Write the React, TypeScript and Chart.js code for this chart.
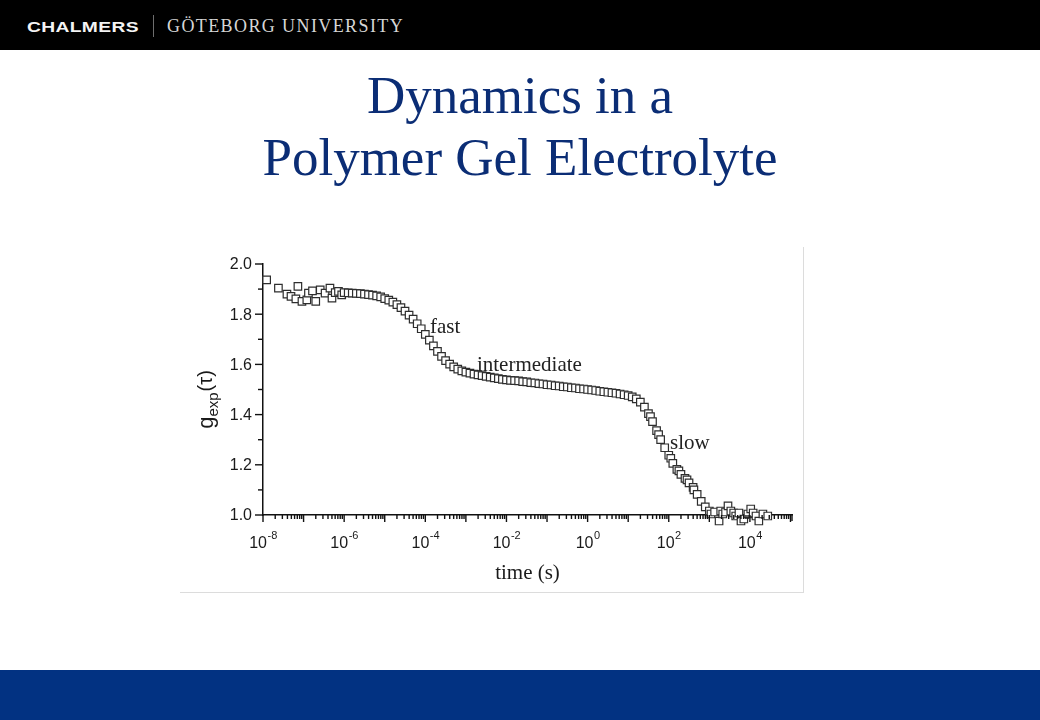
import React, { useEffect, useRef } from 'react';
import { Chart, registerables } from 'chart.js';

Chart.register(...registerables);

// ---- data: log10(time / s) and g_exp(tau) ----
const earlyLogT = [-7.91, -7.62, -7.41, -7.31, -7.19, -7.14, -7.04, -6.92, -6.88, -6.78, -6.70, -6.59, -6.47, -6.35, -6.30, -6.22, -6.14, -6.06];
const earlyG = [1.937, 1.904, 1.880, 1.871, 1.861, 1.911, 1.851, 1.857, 1.884, 1.893, 1.851, 1.897, 1.884, 1.904, 1.864, 1.886, 1.891, 1.877];

const plateauLogT = [-6.0, -5.9, -5.8, -5.7, -5.6, -5.5, -5.4, -5.3, -5.2, -5.1];
const plateauG = [1.886, 1.885, 1.884, 1.883, 1.882, 1.880, 1.878, 1.876, 1.873, 1.869];

const fastLogT = [-5.0, -4.9, -4.8, -4.7, -4.6, -4.5, -4.4, -4.3, -4.2, -4.1, -4.0, -3.9, -3.8, -3.7, -3.6, -3.5, -3.4, -3.3, -3.2, -3.1, -3.0, -2.9, -2.8, -2.7, -2.6, -2.5, -2.4, -2.3, -2.2, -2.1];
const fastG = [1.862, 1.856, 1.848, 1.838, 1.826, 1.812, 1.796, 1.780, 1.762, 1.742, 1.720, 1.697, 1.674, 1.652, 1.632, 1.615, 1.601, 1.590, 1.581, 1.574, 1.569, 1.565, 1.561, 1.558, 1.555, 1.552, 1.549, 1.546, 1.543, 1.540];

const intermediateLogT = [-2.0, -1.9, -1.8, -1.7, -1.6, -1.5, -1.4, -1.3, -1.2, -1.1, -1.0, -0.9, -0.8, -0.7, -0.6, -0.5, -0.4, -0.3, -0.2, -0.1, 0.0, 0.1, 0.2, 0.3, 0.4, 0.5, 0.6, 0.7, 0.8, 0.9, 1.0, 1.1, 1.2];
const intermediateG = [1.538, 1.536, 1.535, 1.534, 1.531, 1.530, 1.527, 1.526, 1.523, 1.522, 1.519, 1.518, 1.515, 1.514, 1.511, 1.510, 1.507, 1.506, 1.503, 1.502, 1.500, 1.498, 1.496, 1.493, 1.491, 1.489, 1.487, 1.485, 1.482, 1.479, 1.476, 1.471, 1.463];

const slowLogT = [1.3, 1.4, 1.5, 1.55, 1.6, 1.7, 1.75, 1.8, 1.9, 2.0, 2.05, 2.1, 2.2, 2.25, 2.3, 2.4, 2.45, 2.5, 2.6, 2.62, 2.7, 2.8, 2.9, 3.0];
const slowG = [1.450, 1.430, 1.404, 1.392, 1.372, 1.336, 1.320, 1.300, 1.268, 1.238, 1.226, 1.206, 1.182, 1.176, 1.162, 1.146, 1.140, 1.128, 1.110, 1.100, 1.082, 1.054, 1.032, 1.016];

const tailLogT = [3.04, 3.13, 3.24, 3.28, 3.33, 3.40, 3.46, 3.53, 3.60, 3.65, 3.73, 3.78, 3.85, 3.95, 4.02, 4.08, 4.15, 4.22, 4.32, 4.40, 4.44];
const tailG = [1.004, 1.012, 0.976, 1.016, 1.004, 1.012, 1.036, 1.016, 1.008, 0.996, 1.008, 0.976, 0.984, 1.004, 1.024, 1.008, 0.996, 0.976, 1.004, 0.968, 0.996];

// ---- axis ticks / labels ----
const xMin = 1e-8;
const xMax = 1.09e5;
const xLabelExponents = [-8, -6, -4, -2, 0, 2, 4];
const yMajorTicks = [1.0, 1.2, 1.4, 1.6, 1.8, 2.0];
const yTickLabels = ['1.0', '1.2', '1.4', '1.6', '1.8', '2.0'];
const yMinorTicks = [1.1, 1.3, 1.5, 1.7, 1.9];

// ---- annotations (anchored in data coordinates) ----
const phaseLabels = ['fast', 'intermediate', 'slow'];
const phaseLogT = [-3.885, -2.727, 2.03];
const phaseG = [1.725, 1.574, 1.263];

const allLogT = [...earlyLogT, ...plateauLogT, ...fastLogT, ...intermediateLogT, ...slowLogT, ...tailLogT];
const allG = [...earlyG, ...plateauG, ...fastG, ...intermediateG, ...slowG, ...tailG];

const SANS = '"Liberation Sans", Arial, Helvetica, sans-serif';
const SERIF = '"Liberation Serif", "Times New Roman", serif';

const axisDecor = {
  id: 'axisDecor',
  afterDraw(chart: any) {
    const { ctx, chartArea } = chart;
    const xs = chart.scales.x;
    const ys = chart.scales.y;
    const { left, right, top, bottom } = chartArea;
    ctx.save();
    ctx.strokeStyle = '#111';
    ctx.lineWidth = 1.4;

    // x ticks (decades long, minor short)
    for (let d = -8; d <= 5; d++) {
      for (let k = 1; k <= 9; k++) {
        const v = k * Math.pow(10, d);
        if (v < xMin * 0.999 || v > xMax) continue;
        const px = xs.getPixelForValue(v);
        const len = k === 1 ? 7 : 4;
        ctx.beginPath();
        ctx.moveTo(px, bottom);
        ctx.lineTo(px, bottom + len);
        ctx.stroke();
      }
    }
    ctx.beginPath();
    ctx.moveTo(right, bottom);
    ctx.lineTo(right, bottom + 6);
    ctx.stroke();

    // y ticks
    yMajorTicks.forEach((v) => {
      const py = ys.getPixelForValue(v);
      ctx.beginPath();
      ctx.moveTo(left - 8, py);
      ctx.lineTo(left, py);
      ctx.stroke();
    });
    yMinorTicks.forEach((v) => {
      const py = ys.getPixelForValue(v);
      ctx.beginPath();
      ctx.moveTo(left - 5, py);
      ctx.lineTo(left, py);
      ctx.stroke();
    });

    ctx.fillStyle = '#1a1a1a';
    // y tick labels
    ctx.font = `16px ${SANS}`;
    ctx.textAlign = 'right';
    ctx.textBaseline = 'middle';
    yMajorTicks.forEach((v, i) => {
      ctx.fillText(yTickLabels[i], left - 11, ys.getPixelForValue(v) + 1);
    });

    // x tick labels: 10^n
    ctx.textAlign = 'left';
    ctx.textBaseline = 'alphabetic';
    xLabelExponents.forEach((e) => {
      const px = xs.getPixelForValue(Math.pow(10, e));
      ctx.font = `16px ${SANS}`;
      const w1 = ctx.measureText('10').width;
      const sup = e < 0 ? `-${Math.abs(e)}` : `${e}`;
      ctx.font = `11px ${SANS}`;
      const w2 = ctx.measureText(sup).width;
      const x0 = px - (w1 + w2) / 2;
      ctx.font = `16px ${SANS}`;
      ctx.fillText('10', x0, bottom + 33);
      ctx.font = `11px ${SANS}`;
      ctx.fillText(sup, x0 + w1 + 0.5, bottom + 24);
    });

    // x axis title
    ctx.font = `21px ${SERIF}`;
    ctx.textAlign = 'center';
    ctx.fillText('time (s)', (left + right) / 2, bottom + 64);

    // y axis title: g_exp(τ), rotated
    ctx.save();
    ctx.translate(left - 50, (top + bottom) / 2 + 10);
    ctx.rotate(-Math.PI / 2);
    ctx.textAlign = 'left';
    ctx.font = `22px ${SANS}`;
    const gW = ctx.measureText('g').width;
    ctx.font = `15px ${SANS}`;
    const subW = ctx.measureText('exp').width;
    ctx.font = `20px ${SANS}`;
    const tW = ctx.measureText('(τ)').width;
    let cx = -(gW + subW + tW + 1) / 2;
    ctx.font = `22px ${SANS}`;
    ctx.fillText('g', cx, 0);
    cx += gW;
    ctx.font = `15px ${SANS}`;
    ctx.fillText('exp', cx, 5);
    cx += subW + 1;
    ctx.font = `20px ${SANS}`;
    ctx.fillText('(τ)', cx, -1);
    ctx.restore();

    // phase annotations
    ctx.font = `21px ${SERIF}`;
    ctx.textAlign = 'left';
    ctx.fillStyle = '#222';
    phaseLabels.forEach((t, i) => {
      ctx.fillText(t, xs.getPixelForValue(Math.pow(10, phaseLogT[i])), ys.getPixelForValue(phaseG[i]));
    });
    ctx.restore();
  },
};

function GelChart() {
  const ref = useRef<HTMLCanvasElement>(null);
  useEffect(() => {
    if (!ref.current) return;
    const points = allLogT.map((e, i) => ({ x: Math.pow(10, e), y: allG[i] }));
    const chart = new Chart(ref.current, {
      type: 'scatter',
      data: {
        datasets: [
          {
            label: 'g_exp(τ)',
            data: points,
            pointStyle: 'rect',
            pointRadius: 5.3,
            pointBorderWidth: 1.2,
            pointBorderColor: '#2e2e2e',
            pointBackgroundColor: '#ffffff',
            clip: false as any,
          },
        ],
      },
      options: {
        responsive: false,
        animation: false,
        devicePixelRatio: 1,
        layout: { padding: { left: 83, right: 11, top: 19, bottom: 77 } },
        plugins: { legend: { display: false }, tooltip: { enabled: false } },
        scales: {
          x: {
            type: 'logarithmic',
            min: xMin,
            max: xMax,
            ticks: { display: false },
            grid: { display: false, drawTicks: false },
            border: { display: true, color: '#111', width: 1.5 },
          },
          y: {
            type: 'linear',
            min: 1.0,
            max: 2.0,
            ticks: { display: false },
            grid: { display: false, drawTicks: false },
            border: { display: true, color: '#111', width: 1.5 },
          },
        },
      },
      plugins: [axisDecor],
    });
    return () => chart.destroy();
  }, []);
  return <canvas ref={ref} width={623} height={347} style={{ position: 'absolute', left: 180, top: 245, width: 623, height: 347 }} />;
}

export default function App() {
  return (
    <div style={{ position: 'fixed', left: 0, top: 0, width: 1040, height: 720, background: '#ffffff', overflow: 'hidden' }}>
      {/* header bar */}
      <div style={{ position: 'absolute', left: 0, top: 0, width: 1040, height: 50, background: '#000' }}>
        <div style={{ position: 'absolute', left: 27, top: 19, font: `bold 15.5px ${SANS}`, lineHeight: '15.5px', letterSpacing: '0.3px', color: '#f4f4f4', whiteSpace: 'nowrap', transform: 'scaleX(1.24)', transformOrigin: 'left center' }}>CHALMERS</div>
        <div style={{ position: 'absolute', left: 153, top: 15, width: 1, height: 22, background: '#6e6e6e' }} />
        <div style={{ position: 'absolute', left: 167, top: 17, font: `18px ${SERIF}`, lineHeight: '18px', letterSpacing: '1.4px', color: '#d6d6d6', whiteSpace: 'nowrap' }}>GÖTEBORG UNIVERSITY</div>
      </div>
      {/* title */}
      <div style={{ position: 'absolute', left: 0, top: 69, width: 1040, textAlign: 'center', font: `53px ${SERIF}`, lineHeight: '52px', color: '#0b2d75', whiteSpace: 'nowrap' }}>Dynamics in a</div>
      <div style={{ position: 'absolute', left: 0, top: 131, width: 1040, textAlign: 'center', font: `53px ${SERIF}`, lineHeight: '52px', color: '#0b2d75', whiteSpace: 'nowrap' }}>Polymer Gel Electrolyte</div>
      {/* figure frame */}
      <div style={{ position: 'absolute', left: 803, top: 247, width: 1, height: 346, background: '#dcdcdc' }} />
      <div style={{ position: 'absolute', left: 180, top: 592, width: 624, height: 1, background: '#dcdcdc' }} />
      <GelChart />
      {/* footer bar */}
      <div style={{ position: 'absolute', left: 0, top: 670, width: 1040, height: 50, background: '#023282' }} />
    </div>
  );
}
